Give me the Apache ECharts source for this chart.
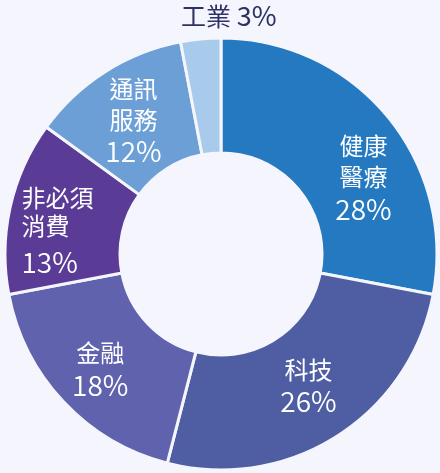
<!DOCTYPE html>
<html>
<head>
<meta charset="utf-8">
<script src="https://cdn.jsdelivr.net/npm/echarts@6/dist/echarts.min.js"></script>
<style>
  html, body { margin: 0; padding: 0; background: #f4f5fd; }
  #chart { width: 440px; height: 473px; }
</style>
</head>
<body>
<div id="chart"></div>
<script>
// 板塊權重
const sectors = ['健康醫療', '科技', '金融', '非必須消費', '通訊服務', '工業'];
const labelNames = ['健康\n醫療', '科技', '金融', '非必須\n消費', '通訊\n服務', '工業'];
const weights = [28, 26, 18, 13, 12, 3];
const colors = ['#2479c1', '#4f5ea3', '#6162ae', '#5a3b96', '#6b9fd5', '#a8caeb'];

let chart = echarts.init(document.getElementById('chart'));

// 每一塊的標籤微調
const labelTweaks = [
    { offset: [18, 27] },
    { offset: [1, -4] },
    { offset: [-3, 5] },
    { offset: [-6, 16], tight: true },
    { offset: [-1, 3] },
    { offset: [23, -77], outside: true }
];

const cjk = 'Noto Sans CJK TC';

function richLabel(i, nh, ph, align) {
    return {
        formatter: '{n|' + labelNames[i].split('\n').join('}\n{n|') + '}\n{p|' + weights[i] + '%}',
        rich: {
            n: { color: '#fff', fontSize: 24, lineHeight: nh, align: align, fontFamily: cjk },
            p: { color: '#fff', fontSize: 28, fontWeight: 350, lineHeight: ph, align: align, fontFamily: cjk }
        }
    };
}

let data = sectors.map(function (name, i) {
    let t = labelTweaks[i];
    let item = {
        name: name,
        value: weights[i],
        itemStyle: { color: colors[i] }
    };
    if (t.outside) {
        item.label = {
            formatter: '{n|' + labelNames[i] + ' }{p|' + weights[i] + '%}',
            rich: {
                n: { color: '#2d3163', fontSize: 25, fontFamily: cjk },
                p: { color: '#2d3163', fontSize: 27, fontFamily: cjk }
            }
        };
    } else if (t.tight) {
        item.label = richLabel(i, 28, 46, 'left');
    } else {
        item.label = richLabel(i, 31, 33, 'center');
    }
    item.label.offset = t.offset;
    return item;
});

let option = {
    backgroundColor: '#f4f5fd',
    series: [{
        type: 'pie',
        center: [221, 254],
        radius: [101, 216],
        startAngle: 90,
        clockwise: true,
        avoidLabelOverlap: false,
        itemStyle: { borderColor: '#f4f5fd', borderWidth: 3 },
        label: {
            show: true,
            position: 'inside'
        },
        labelLine: { show: false },
        emphasis: { disabled: true },
        data: data
    }]
};

chart.setOption(option);
</script>
</body>
</html>
